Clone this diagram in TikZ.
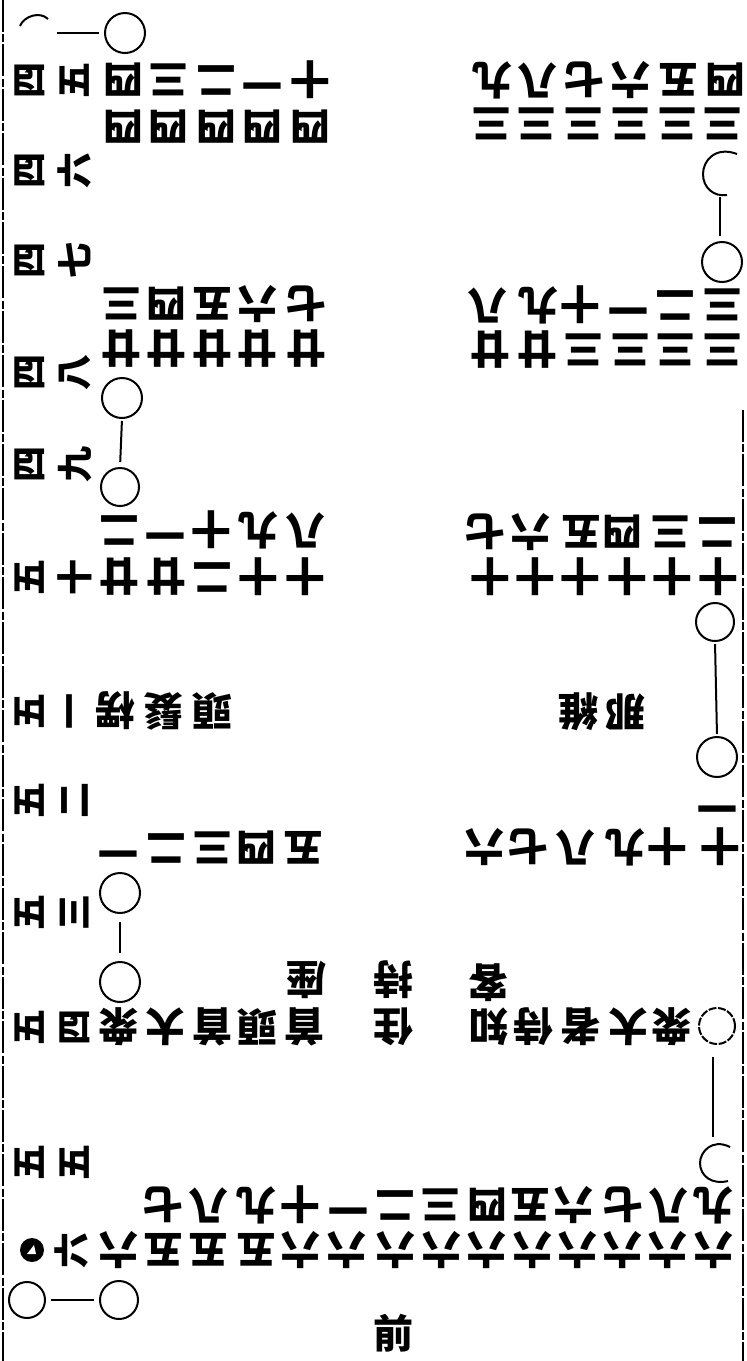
\documentclass[tikz,border=0pt]{standalone}
\usepackage{fontspec}
\newfontfamily\cjk{Noto Sans CJK JP}
\begin{document}
\begin{tikzpicture}[x=0.5pt,y=-0.5pt,
  ud/.style={rotate=180, inner sep=0pt, font=\cjk\bfseries\fontsize{20}{20}\selectfont},
  lc/.style={rotate=90, inner sep=0pt, font=\cjk\bfseries\fontsize{18}{18}\selectfont},
  up/.style={inner sep=0pt, font=\cjk\bfseries\fontsize{20}{20}\selectfont},
  ring/.style={circle, draw, line width=1pt, inner sep=0pt, minimum size=#1},
  ring/.default=20pt,
  link/.style={line width=1pt},
  frame/.style={line width=1pt, dash pattern=on 16pt off 1.2pt on 4pt off 1pt}]
\useasboundingbox (0,0) rectangle (747,1361);
% page edges
\coordinate (lt) at (3,0); \coordinate (lb) at (3,1361);
\coordinate (rt) at (743,410); \coordinate (rb) at (743,1361);
\draw[frame] (lt) -- (lb);
\draw[frame] (rt) -- (rb);

% circles
\node[ring=20pt] (c2) at (125,33) {};
\node[ring=20pt] (c4) at (722,262) {};
\node[ring=20pt] (c5) at (122,398) {};
\node[ring=19pt] (c6) at (120,487) {};
\node[ring=19pt] (c7) at (715,622) {};
\node[ring=20pt] (c8) at (717,757) {};
\node[ring=20pt] (c9) at (120,893) {};
\node[ring=20pt] (c10) at (120,982) {};
\node[ring=18pt, dash pattern=on 4pt off 0.8pt] (c11) at (717,1026) {};
\node[ring=18pt] (c13) at (27,1300) {};
\node[ring=19pt] (c14) at (119,1300) {};

% partial circles
\draw[link] (20,26) .. controls (24,16) and (40,11) .. (48,19);
\coordinate (c1r) at (57,33);
\draw[link] (737,154) .. controls (716,146) and (703,160) .. (703,174)
            .. controls (703,188) and (714,197) .. (727,195);
\coordinate (c3b) at (720,197);
\draw[link] (730,1147) .. controls (712,1138) and (700,1152) .. (700,1163)
            .. controls (700,1176) and (712,1185) .. (728,1181);
\coordinate (c12t) at (713,1143);

% connectors
\draw[link, shorten >=2.5pt] (c1r) -- (c2.west);
\draw[link, shorten >=2.5pt] (c3b) -- (c3b |- c4.north);
\draw[link, shorten <=1pt, shorten >=2.5pt] (c5.south) -- (c6.north);
\draw[link, shorten <=1pt, shorten >=1pt] (c7.south) -- (c8.north);
\draw[link, shorten <=4pt, shorten >=4pt] (c9.south) -- (c10.north);
\draw[link, shorten <=6pt, shorten >=3pt] (c11.south -| c12t) -- (c12t);
\draw[link, shorten <=2.5pt, shorten >=2.5pt] (c13.east) -- (c14.west);

% left margin numbers (turned a quarter)
\foreach \y/\a/\b [count=\i] in {80/四/五,170/四/六,260/四/七,372/四/八,464/四/九,577/五/十,711/五/一,800/五/二,912/五/三,1027/五/四,1162/五/五}{
  \node[lc] (ma\i) at (30,\y) {\a};
  \node[lc] (mb\i) at (75,\y) {\b};
}
\node[circle, fill=black, inner sep=0pt, minimum size=12pt] (blob) at (32,1250) {};
\fill[white] (27,1254) -- (36,1254) -- (34,1245) -- cycle;
\node[lc] (mb12) at (72,1250) {六};

% numbers, upside down
\foreach \x/\c [count=\i] in {123/四,168/三,216/二,262/一,310/十}
  \node[ud] (p\i) at (\x,80) {\c};
\foreach \x [count=\i] in {123,168,216,262,310}
  \node[ud] (q\i) at (\x,127) {四};
\foreach \x/\c [count=\i] in {492/九,537/八,584/七,630/六,678/五,725/四}
  \node[ud] (r\i) at (\x,80) {\c};
\foreach \x [count=\i] in {491,536,583,630,677,722}
  \node[ud] (s\i) at (\x,124) {三};
\foreach \x/\c [count=\i] in {121/三,166/四,212/五,257/六,306/七}
  \node[ud] (t\i) at (\x,304) {\c};
\foreach \x [count=\i] in {121,166,212,257,306}
  \node[ud] (u\i) at (\x,349) {廿};
\foreach \x/\c [count=\i] in {487/八,538/九,580/十,628/一,675/二,722/三}
  \node[ud] (v\i) at (\x,305) {\c};
\foreach \x/\c [count=\i] in {490/廿,537/廿,583/三,630/三,675/三,722/三}
  \node[ud] (w\i) at (\x,350) {\c};
\foreach \x/\c [count=\i] in {119/二,165/一,211/十,258/九,305/八}
  \node[ud] (xa\i) at (\x,530) {\c};
\foreach \x/\c [count=\i] in {119/廿,166/廿,212/二,258/十,305/十}
  \node[ud] (xb\i) at (\x,577) {\c};
\foreach \x/\c [count=\i] in {485/七,530/六,581/五,622/四,670/三,717/二}
  \node[ud] (ya\i) at (\x,532) {\c};
\foreach \x [count=\i] in {490,535,580,627,672,718}
  \node[ud] (yb\i) at (\x,577) {十};
\foreach \x/\c [count=\i] in {115/楞,163/髮,212/頭}
  \node[ud] (za\i) at (\x,711) {\c};
\node[ud] (zb1) at (578,712) {維};
\node[ud] (zb2) at (625,712) {那};
\node[ud] (ea) at (717,803) {一};
\foreach \x/\c [count=\i] in {484/六,528/七,575/八,625/九,667/十,720/十}
  \node[ud] (eb\i) at (\x,847) {\c};
\foreach \x/\c [count=\i] in {118/一,166/二,212/三,256/四,303/五}
  \node[ud] (ec\i) at (\x,848) {\c};
\node[ud] (za) at (306,980) {座};
\node[ud] (ji) at (393,980) {持};
\node[ud] (kya) at (488,983) {客};
\foreach \x/\c [count=\i] in {118/衆,165/大,212/首,257/頭,304/首,393/住,488/知,533/侍,580/者,628/大,671/衆}
  \node[ud] (f\i) at (\x,1027) {\c};
\foreach \x/\c [count=\i] in {163/七,208/八,256/九,300/十,348/一,395/二,440/三,487/四,530/五,573/六,623/七,668/八,713/九}
  \node[ud] (g\i) at (\x,1205) {\c};
\foreach \x/\c [count=\i] in {118/六,163/五,208/五,256/五,300/六,346/六,395/六,441/六,486/六,532/六,577/六,622/六,667/六,713/六}
  \node[ud] (h\i) at (\x,1250) {\c};
\node[up] (mae) at (393,1333) {前};
\end{tikzpicture}
\end{document}
